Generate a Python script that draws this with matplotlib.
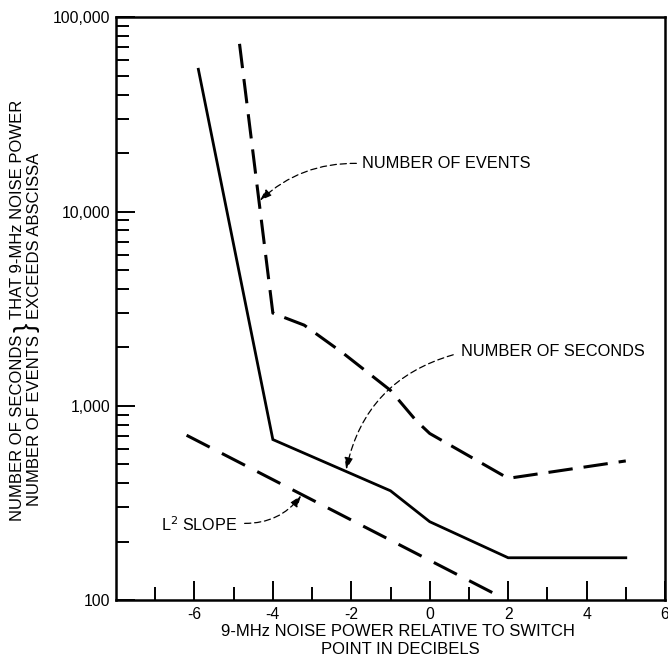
import matplotlib
matplotlib.use("Agg")
import matplotlib.pyplot as plt
from matplotlib.ticker import FixedLocator, NullFormatter, LogLocator

plt.rcParams['font.family'] = ['Liberation Sans', 'DejaVu Sans']
plt.rcParams['axes.unicode_minus'] = False

# number of seconds (solid)
seconds_x = [-5.9, -4, -1, 0, 2, 5]
seconds_y = [54000, 670, 365, 253, 165, 165]

# number of events (dashed)
events_x = [-4.85, -4, -3.2, -2.2, -1, -0.35, 0, 2, 5]
events_y = [73000, 3000, 2600, 1860, 1200, 840, 720, 423, 520]

# L^2 slope reference line
l2_x = [-6.2, 1.8]
l2_y = [705, 104]

yticks = [100, 1000, 10000, 100000]
ytick_labels = ['100', '1,000', '10,000', '100,000']
xticks = [-6, -4, -2, 0, 2, 4, 6]
xticks_minor = [-7, -5, -3, -1, 1, 3, 5]

W, H = 668, 658
fig = plt.figure(figsize=(W / 100, H / 100), dpi=100)
ax = fig.add_axes([116 / W, 58 / H, 549 / W, 582.7 / H])

ax.plot(seconds_x, seconds_y, color='black', lw=2.0, solid_joinstyle='miter')
ax.plot(events_x, events_y, color='black', lw=2.2, dashes=(8, 3.6))
ax.plot(l2_x, l2_y, color='black', lw=2.2, dashes=(8.5, 4.5))

ax.set_yscale('log')
ax.set_xlim(-8, 6)
ax.set_ylim(100, 100000)

ax.yaxis.set_major_locator(FixedLocator(yticks))
ax.set_yticklabels(ytick_labels)
ax.yaxis.set_minor_locator(LogLocator(base=10, subs=range(2, 10)))
ax.yaxis.set_minor_formatter(NullFormatter())
ax.set_xticks(xticks)
ax.set_xticks(xticks_minor, minor=True)

for s in ax.spines.values():
    s.set_linewidth(1.8)
ax.tick_params(which='major', direction='in', length=13.5, width=1.4,
               labelsize=11.3, top=False, right=False)
ax.tick_params(which='minor', direction='in', length=9.5, width=1.4,
               top=False, right=False)
ax.tick_params(axis='y', pad=4)
ax.tick_params(axis='x', pad=5)

# annotations
ann = dict(fontsize=11.8, va='center', ha='left')
ax.text(-1.72, 17700, 'NUMBER OF EVENTS', **ann)
ax.text(0.80, 1900, 'NUMBER OF SECONDS', **ann)
ax.text(-6.86, 243, 'L$^2$ SLOPE', fontsize=11.6, va='center', ha='left')

arr = dict(arrowstyle='-|>,head_length=0.7,head_width=0.25', color='black',
           lw=0.9, linestyle=(0, (5, 3)), shrinkA=0, shrinkB=0, mutation_scale=10)
ax.annotate('', xy=(-4.33, 11400), xytext=(-1.87, 17700),
            arrowprops=dict(connectionstyle='arc3,rad=0.2', **arr))
ax.annotate('', xy=(-2.13, 470), xytext=(0.6, 1830),
            arrowprops=dict(connectionstyle='arc3,rad=0.3', **arr))
ax.annotate('', xy=(-3.28, 345), xytext=(-4.72, 248),
            arrowprops=dict(connectionstyle='arc3,rad=0.25', **arr))

# axis labels
fig.text(398 / W, 1 - 632 / H, '9-MHz NOISE POWER RELATIVE TO SWITCH',
         ha='center', va='center', fontsize=12)
fig.text(400 / W, 1 - 649 / H, 'POINT IN DECIBELS',
         ha='center', va='center', fontsize=12)

ytop = 1 - 335 / H
ybot = 1 - 319 / H
fig.text(17.5 / W, ytop, 'NUMBER OF SECONDS', rotation=90, ha='center', va='top', fontsize=12)
fig.text(35 / W, ytop, 'NUMBER OF EVENTS', rotation=90, ha='center', va='top', fontsize=12)
fig.text(26 / W, 1 - 327 / H, '}', rotation=90, ha='center', va='center', fontsize=20)
fig.text(17.5 / W, ybot, 'THAT 9-MHz NOISE POWER', rotation=90, ha='center', va='bottom', fontsize=12)
fig.text(35 / W, ybot, 'EXCEEDS ABSCISSA', rotation=90, ha='center', va='bottom', fontsize=12)

fig.savefig('out.png', dpi=100)
